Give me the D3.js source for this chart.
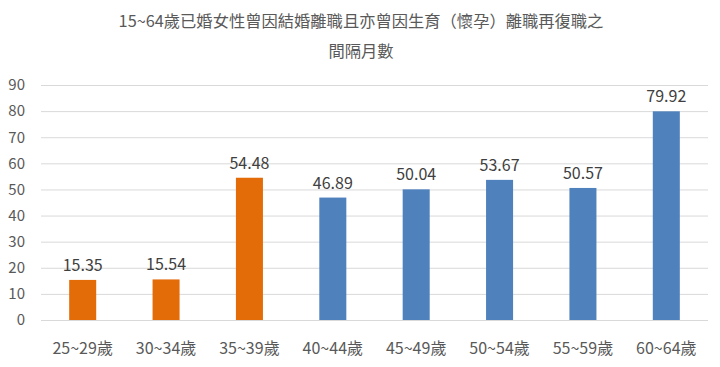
<!DOCTYPE html>
<html><head><meta charset="utf-8">
<script src="https://cdn.jsdelivr.net/npm/d3@7"></script>
<style>body{margin:0;background:#fff;}svg{display:block;}</style>
</head><body>
<svg id="c" width="720" height="367"></svg>
<script>
const categories = ["25~29歲","30~34歲","35~39歲","40~44歲","45~49歲","50~54歲","55~59歲","60~64歲"];
const values = [15.35, 15.54, 54.48, 46.89, 50.04, 53.67, 50.57, 79.92];
const barColors = ["#E36C09","#E36C09","#E36C09","#4F81BD","#4F81BD","#4F81BD","#4F81BD","#4F81BD"];
const yTicks = [0,10,20,30,40,50,60,70,80,90];
const titleLines = ["15~64歲已婚女性曾因結婚離職且亦曾因生育（懷孕）離職再復職之","間隔月數"];

const svg = d3.select("#c");
const font = "'Noto Sans CJK TC','Noto Sans',sans-serif";
const txt = "#595959";
const x = d3.scaleBand().domain(categories).range([41, 708]).paddingInner(0.676).paddingOuter(0.338);
const y = d3.scaleLinear().domain([0, 90]).range([320, 85]);

// gridlines
svg.append("g").selectAll("line").data(yTicks).join("line")
  .attr("x1", 41).attr("x2", 708)
  .attr("y1", d => y(d) + 0.5).attr("y2", d => y(d) + 0.5)
  .attr("stroke", "#d9d9d9").attr("stroke-width", 1);

// y axis labels
const ya = svg.append("g").attr("transform", "translate(25,0)")
  .call(d3.axisLeft(y).tickValues(yTicks).tickSize(0).tickPadding(0));
ya.select(".domain").remove();
ya.selectAll("text").attr("font-family", font).attr("font-size", 15).attr("fill", txt);

// x axis labels
const xa = svg.append("g").attr("transform", "translate(0,320)")
  .call(d3.axisBottom(x).tickSize(0).tickPadding(23));
xa.select(".domain").remove();
xa.selectAll("text").attr("font-family", font).attr("font-size", 16).attr("fill", txt);

// bars
svg.append("g").selectAll("rect").data(values).join("rect")
  .attr("x", (d, i) => x(categories[i]))
  .attr("width", x.bandwidth())
  .attr("y", d => y(d))
  .attr("height", d => y(0) - y(d))
  .attr("fill", (d, i) => barColors[i]);

// value labels
svg.append("g").selectAll("text").data(values).join("text")
  .attr("x", (d, i) => x(categories[i]) + x.bandwidth() / 2)
  .attr("y", d => y(d) - 9)
  .attr("text-anchor", "middle")
  .attr("font-family", font).attr("font-size", 16).attr("fill", "#404040")
  .text(d => d.toFixed(2));

// title
svg.append("g").selectAll("text").data(titleLines).join("text")
  .attr("x", 361).attr("y", (d, i) => 27 + i * 30)
  .attr("text-anchor", "middle")
  .attr("font-family", font).attr("font-size", 16.3).attr("fill", txt)
  .text(d => d);
</script>
</body></html>
